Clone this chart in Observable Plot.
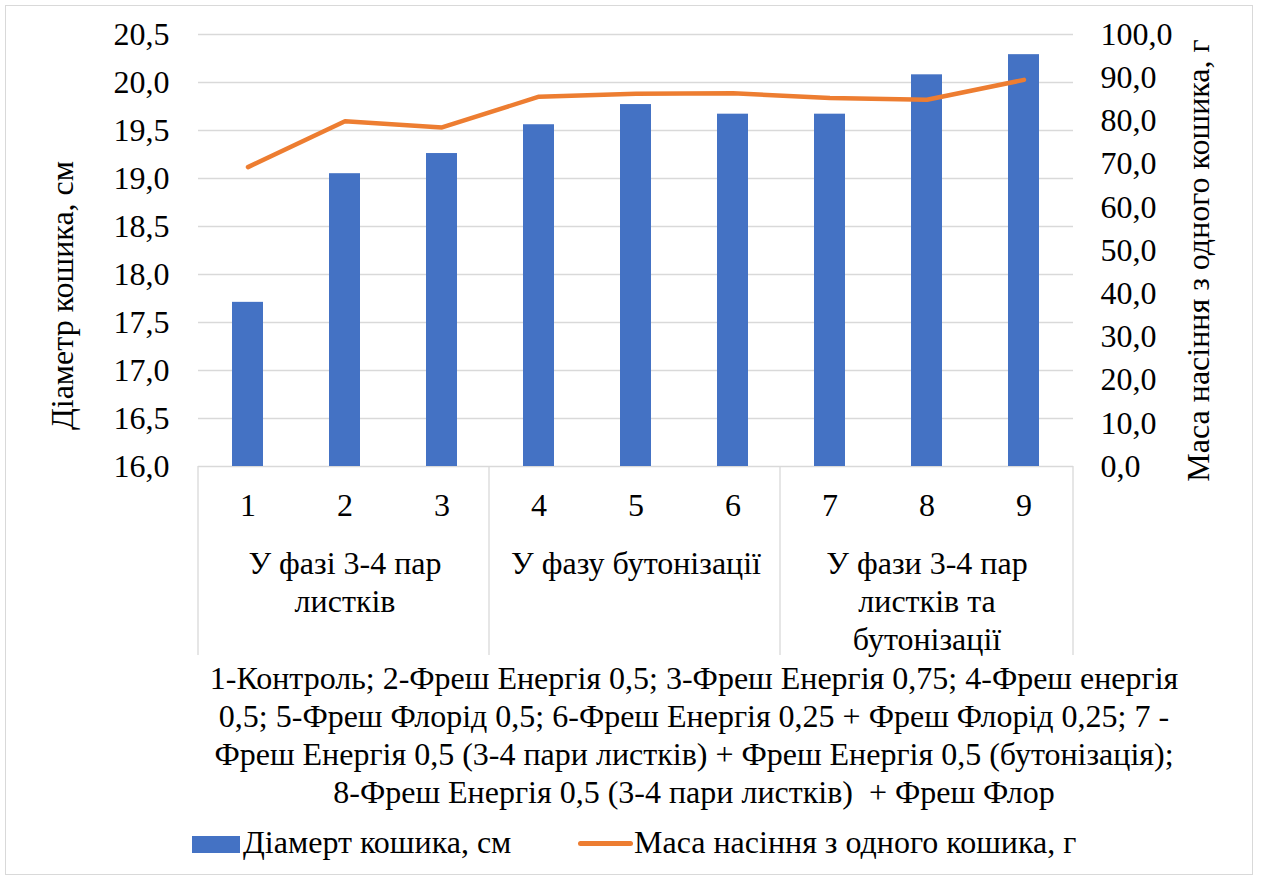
<!DOCTYPE html>
<html>
<head>
<meta charset="utf-8">
<script src="https://cdn.jsdelivr.net/npm/d3@7"></script>
<script src="https://cdn.jsdelivr.net/npm/@observablehq/plot@0.6"></script>
</head>
<body style="margin:0;background:#fff">
<div id="wrap"></div>
<script>
// ---- data ----
const categories = ["1", "2", "3", "4", "5", "6", "7", "8", "9"];
const diameter = [17.71, 19.05, 19.26, 19.56, 19.77, 19.67, 19.67, 20.08, 20.29];
const seedMass = [69.3, 79.9, 78.5, 85.6, 86.3, 86.4, 85.3, 84.9, 89.5];
const groupLabels = ["У фазі 3-4 пар\nлистків", "У фазу бутонізації", "У фази 3-4 пар\nлистків та\nбутонізації"];
const groupCenters = ["2", "5", "8"];
const groupStarts = ["1", "4", "7"];
const leftTicks = [16, 16.5, 17, 17.5, 18, 18.5, 19, 19.5, 20, 20.5];
const rightTicks = [0, 10, 20, 30, 40, 50, 60, 70, 80, 90, 100];
const leftTitle = "Діаметр кошика, см";
const rightTitle = "Маса насіння з одного кошика, г";
const seriesNames = ["Діамерт кошика, см", "Маса насіння з одного кошика, г"];
const captionLines = [
  "1-Контроль; 2-Фреш Енергія 0,5; 3-Фреш Енергія 0,75; 4-Фреш енергія",
  "0,5; 5-Фреш Флорід 0,5; 6-Фреш Енергія 0,25 + Фреш Флорід 0,25; 7 -",
  "Фреш Енергія 0,5 (3-4 пари листків) + Фреш Енергія 0,5 (бутонізація);",
  "8-Фреш Енергія 0,5 (3-4 пари листків)  + Фреш Флор"
];
const colors = { bar: "#4472c4", line: "#ed7d31", grid: "#d9d9d9" };
const FAMILY = "Liberation Serif";
const FONT = `"${FAMILY}"`;

// ---- scales mapping ----
const leftDomain = [16, 20.5];
const rightDomain = [0, 100];
const toLeft = v => leftDomain[0] + (v - rightDomain[0]) / (rightDomain[1] - rightDomain[0]) * (leftDomain[1] - leftDomain[0]);
const fromLeft = y => rightDomain[0] + (y - leftDomain[0]) / (leftDomain[1] - leftDomain[0]) * (rightDomain[1] - rightDomain[0]);
const fmt = v => v.toFixed(1).replace(".", ",");

const data = categories.map((c, i) => ({ cat: c, d: diameter[i], m: seedMass[i] }));
const groups = groupLabels.map((label, i) => ({ label, mid: groupCenters[i], start: groupStarts[i] }));

function box(parent, css) {
  const d = document.createElement("div");
  Object.assign(d.style, css);
  parent.appendChild(d);
  return d;
}

// layout containers (inline styles)
const wrap = document.getElementById("wrap");
Object.assign(wrap.style, { position: "relative", width: "1262px", height: "881px", overflow: "hidden", color: "#000" });
wrap.style.fontFamily = FONT;
box(wrap, { position: "absolute", left: "5px", top: "5px", width: "1248px", height: "870px", border: "1px solid #d9d9d9", boxSizing: "border-box" });
const chart = box(wrap, { position: "absolute", left: "0px", top: "0px" });

// separators for the grouped category axis, placed through the x scale
function separators(index, scales, values, dims) {
  const x = scales.x;
  const left = dims.marginLeft;
  const right = dims.width - dims.marginRight;
  const offset = x(categories[0]) - left;
  const xs = [left, ...groupStarts.slice(1).map(c => x(c) - offset), right];
  const y0 = dims.height - dims.marginBottom;
  const g = d3.create("svg:g");
  g.selectAll("line").data(xs).join("line")
    .attr("x1", d => d).attr("x2", d => d)
    .attr("y1", y0).attr("y2", y0 + 189)
    .attr("stroke", colors.grid).attr("stroke-width", 1.3);
  return g.node();
}

const plot = Plot.plot({
  width: 1262,
  height: 660,
  marginLeft: 198,
  marginRight: 189,
  marginTop: 34,
  marginBottom: 194,
  style: { fontSize: "32px", color: "#000", background: "transparent", overflow: "visible" },
  x: { domain: categories, paddingInner: 0.68, paddingOuter: 0.34 },
  y: { domain: leftDomain },
  marks: [
    Plot.gridY(leftTicks.filter(t => t > leftDomain[0]), { stroke: colors.grid, strokeOpacity: 1, strokeWidth: 1.3 }),
    Plot.ruleY([leftDomain[0]], { stroke: colors.grid, strokeWidth: 1.3 }),
    Plot.barY(data, { x: "cat", y1: leftDomain[0], y2: "d", fill: colors.bar }),
    Plot.line(data, { x: "cat", y: d => toLeft(d.m), stroke: colors.line, strokeWidth: 4.5, strokeLinejoin: "round", strokeLinecap: "round" }),
    Plot.axisY(leftTicks, { anchor: "left", tickSize: 0, tickPadding: 29, tickFormat: fmt, label: null }),
    Plot.axisY(rightTicks.map(toLeft), { anchor: "right", tickSize: 0, tickPadding: 27, tickFormat: d => fmt(Math.round(fromLeft(d) * 10) / 10), label: null }),
    Plot.axisX({ tickSize: 0, tickPadding: 27, label: null }),
    Plot.text(groups, { x: "mid", text: "label", frameAnchor: "bottom", lineAnchor: "top", dy: 81, lineHeight: 1.18 }),
    separators,
    Plot.text([leftTitle], { frameAnchor: "left", textAnchor: "middle", rotate: -90, dx: -136, dy: 45 }),
    Plot.text([rightTitle], { frameAnchor: "right", textAnchor: "middle", rotate: -90, dx: 125, dy: 10 })
  ]
});
plot.style.fontFamily = FONT;
plot.querySelectorAll("text").forEach(el => { el.style.fontFamily = FONT; });
chart.appendChild(plot);

// caption
const cap = box(wrap, { position: "absolute", left: "199px", top: "659px", width: "990px", textAlign: "center", fontSize: "32px", lineHeight: "38px", whiteSpace: "pre" });
cap.style.fontFamily = FONT;
cap.textContent = captionLines.join("\n");

// legend
box(wrap, { position: "absolute", left: "192px", top: "836px", width: "48px", height: "17px", background: colors.bar });
const l1 = box(wrap, { position: "absolute", left: "243px", top: "823px", fontSize: "32px", lineHeight: "38px", whiteSpace: "pre" });
l1.style.fontFamily = FONT;
l1.textContent = seriesNames[0];
box(wrap, { position: "absolute", left: "578px", top: "841px", width: "55px", height: "5px", borderRadius: "2.5px", background: colors.line });
const l2 = box(wrap, { position: "absolute", left: "634px", top: "823px", fontSize: "32px", lineHeight: "38px", whiteSpace: "pre" });
l2.style.fontFamily = FONT;
l2.textContent = seriesNames[1];
</script>
</body>
</html>
